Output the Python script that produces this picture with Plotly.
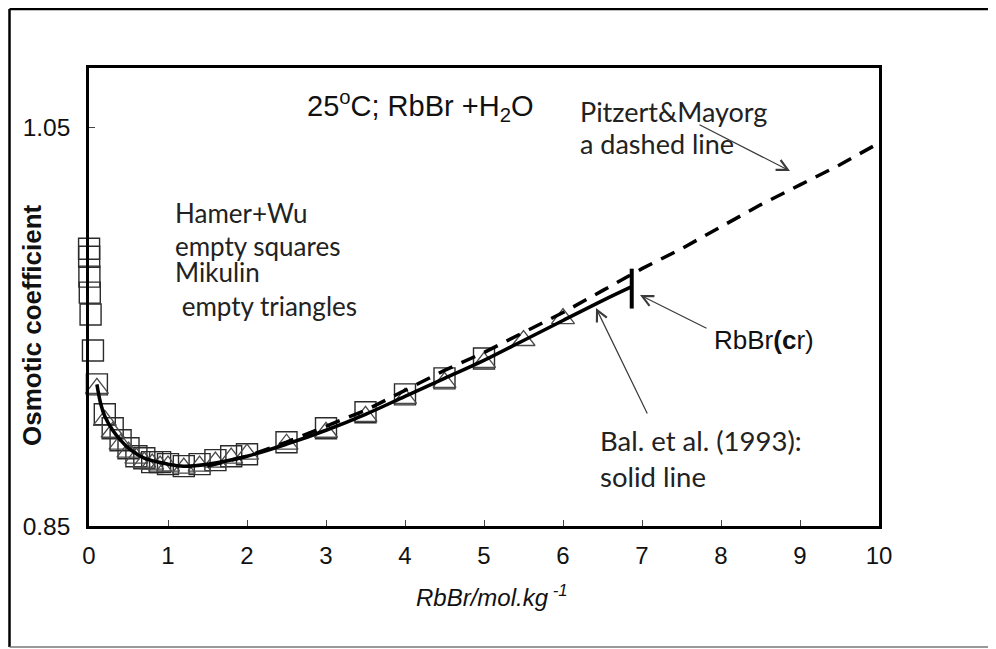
import plotly.graph_objects as go

# ---------------- data ----------------
hamer_wu_m = [0.001, 0.002, 0.005, 0.01, 0.02, 0.05, 0.1, 0.2, 0.3, 0.4, 0.5, 0.6, 0.7,
              0.8, 0.9, 1.0, 1.2, 1.4, 1.6, 1.8, 2.0, 2.5, 3.0, 3.5, 4.0, 4.5, 5.0]
hamer_wu_phi = [0.989, 0.985, 0.975, 0.967, 0.956, 0.938, 0.921, 0.906, 0.899, 0.893, 0.889,
                0.885, 0.884, 0.882, 0.882, 0.881, 0.880, 0.881, 0.883, 0.885, 0.886, 0.892,
                0.899, 0.907, 0.916, 0.924, 0.934]

mikulin_m = [0.1, 0.2, 0.3, 0.4, 0.5, 0.6, 0.7, 0.8, 0.9, 1.0, 1.2, 1.4, 1.6, 1.8, 2.0,
             2.5, 3.0, 3.5, 4.0, 4.5, 5.0, 5.5, 6.0]
mikulin_phi = [0.919, 0.903, 0.897, 0.891, 0.887, 0.884, 0.882, 0.881, 0.880, 0.880, 0.879,
               0.880, 0.882, 0.884, 0.886, 0.891, 0.897, 0.905, 0.914, 0.922, 0.932, 0.943,
               0.954]

bal_m = [0.1, 0.15, 0.2, 0.3, 0.4, 0.5, 0.7, 1.0, 1.2, 1.5, 2.0, 2.5, 3.0, 3.5, 4.0, 4.5,
         5.0, 5.5, 6.0, 6.5, 6.87]
bal_phi = [0.921, 0.911, 0.905, 0.898, 0.893, 0.889, 0.884, 0.881, 0.880, 0.881, 0.885,
           0.891, 0.898, 0.906, 0.915, 0.924, 0.933, 0.943, 0.953, 0.963, 0.970]

pitzer_m = [1.5, 2.0, 2.5, 3.0, 3.5, 4.0, 4.5, 5.0, 5.5, 6.0, 6.5, 7.0, 7.5, 8.0, 8.5, 9.0,
            9.5, 10.0]
pitzer_phi = [0.880, 0.885, 0.892, 0.900, 0.908, 0.918, 0.928, 0.937, 0.947, 0.957, 0.968,
              0.979, 0.989, 1.000, 1.011, 1.021, 1.031, 1.042]

solubility_m = [6.87, 6.87]
solubility_phi = [0.959, 0.979]

y_ticks = [0.85, 1.05]
y_tick_text = ["0.85", "1.05"]
x_ticks = [0, 1, 2, 3, 4, 5, 6, 7, 8, 9, 10]

# ---------------- layout helpers ----------------
OFF = 8                      # default page body margin
W, H = 996 - OFF, 649 - OFF  # figure size
L, R, T, B = 89, 879, 68, 526  # plot area in page pixels


def px(xp, yp):
    return (xp - L) / (R - L), (B - yp) / (B - T)


ARIAL = "Liberation Sans, Arial, sans-serif"
CALI = "Lato, Calibri, sans-serif"

fig = go.Figure()

fig.add_trace(go.Scatter(
    x=hamer_wu_m, y=hamer_wu_phi, mode="markers", name="Hamer+Wu", cliponaxis=False,
    marker=dict(symbol="square-open", size=21, color="#2b2b2b",
                line=dict(width=1.4, color="#2b2b2b"))))
fig.add_trace(go.Scatter(
    x=mikulin_m, y=mikulin_phi, mode="markers", name="Mikulin", cliponaxis=False,
    marker=dict(symbol="triangle-up-open", size=20, color="#4a4a4a",
                line=dict(width=1.3, color="#4a4a4a"))))
fig.add_trace(go.Scatter(
    x=pitzer_m, y=pitzer_phi, mode="lines", name="Pitzer&Mayorga",
    line=dict(color="black", width=3.5, dash="15px,10px")))
fig.add_trace(go.Scatter(
    x=bal_m, y=bal_phi, mode="lines", name="Bal. et al. (1993)",
    line=dict(color="black", width=3.5, shape="spline")))
fig.add_trace(go.Scatter(
    x=solubility_m, y=solubility_phi, mode="lines", name="RbBr(cr)",
    line=dict(color="black", width=4)))

annotations = []


def text(xp, yp, s, font, size, color="#111", anchor="left"):
    x, y = px(xp, yp)
    annotations.append(dict(
        x=x, y=y, xref="paper", yref="paper", text=s, showarrow=False,
        xanchor=anchor, yanchor="middle",
        font=dict(family=font, size=size, color=color)))


def arrow(tail, head):
    hx, hy = px(*head)
    annotations.append(dict(
        x=hx, y=hy, xref="paper", yref="paper", text="", showarrow=True,
        ax=tail[0] - head[0], ay=tail[1] - head[1], axref="pixel", ayref="pixel",
        arrowhead=5, arrowsize=1.8, arrowwidth=1.2, arrowcolor="#3a3a3a", standoff=0))


text(305, 106, "25<sup>o</sup>C; RbBr +H<sub>2</sub>O", ARIAL, 29)
text(578, 111, "Pitzert&Mayorg", CALI, 27, "#222")
text(578, 143, "a dashed line", CALI, 27, "#222")
text(173, 213, "Hamer+Wu", CALI, 26, "#222")
text(173, 246, "empty squares", CALI, 26, "#222")
text(173, 272, "Mikulin", CALI, 26, "#222")
text(173, 306, " empty triangles", CALI, 26, "#222")
text(598, 440, "Bal. et al. (1993):", CALI, 27.5, "#222")
text(598, 476, "solid line", CALI, 27.5, "#222")
text(712, 340, "RbBr<b>(c</b>r)", ARIAL, 26)

arrow((698, 124), (790, 171))
arrow((708, 329), (640, 295))
arrow((648, 415), (596, 308))

# axis titles
xt, yt = px(492, 596)
annotations.append(dict(x=xt, y=yt, xref="paper", yref="paper",
                        text="<i>RbBr/mol.kg<sup> -1</sup></i>", showarrow=False,
                        xanchor="center", yanchor="middle",
                        font=dict(family=ARIAL, size=24, color="#111")))
xt, yt = px(32, 325)
annotations.append(dict(x=xt, y=yt, xref="paper", yref="paper",
                        text="<b>Osmotic coefficient</b>", showarrow=False, textangle=-90,
                        xanchor="center", yanchor="middle",
                        font=dict(family=ARIAL, size=26, color="#111")))

# outer chart border (page coordinates)
x0, y0 = px(9.5, 9)
x1, y1 = px(1010, 647)
shapes = [
    dict(type="line", xref="paper", yref="paper", x0=x0, y0=y0, x1=x1, y1=y0,
         line=dict(color="black", width=2.5)),
    dict(type="line", xref="paper", yref="paper", x0=x0, y0=y0, x1=x0, y1=y1,
         line=dict(color="black", width=2.5)),
    dict(type="line", xref="paper", yref="paper", x0=x0, y0=y1, x1=x1, y1=y1,
         line=dict(color="#777", width=1.5)),
]

fig.update_layout(
    width=W, height=H,
    margin=dict(l=L - OFF, r=W + OFF - R, t=T - OFF, b=H + OFF - B, pad=0),
    paper_bgcolor="white", plot_bgcolor="white",
    showlegend=False,
    annotations=annotations,
    shapes=shapes,
    xaxis=dict(range=[0, 10], tickvals=x_ticks, ticks="inside", ticklen=6, tickwidth=1,
               tickcolor="#444", showgrid=False, zeroline=False, showline=True,
               linecolor="black", linewidth=2.5, mirror=True, ticklabelstandoff=6,
               tickfont=dict(family=ARIAL, size=24, color="#111")),
    yaxis=dict(range=[0.85, 1.0796], tickvals=y_ticks, ticktext=y_tick_text,
               ticks="inside", ticklen=6, tickwidth=1, tickcolor="#444",
               showgrid=False, zeroline=False, showline=True, linecolor="black",
               linewidth=2.5, mirror=True, ticklabelstandoff=11,
               tickfont=dict(family=ARIAL, size=24.5, color="#111")),
)

fig.write_html("out.html")
